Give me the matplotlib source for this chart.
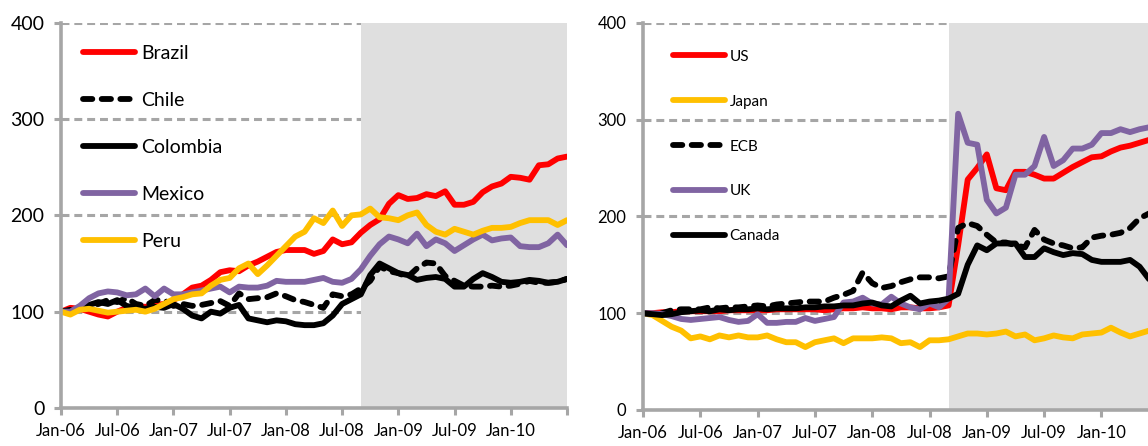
import numpy as np
import matplotlib
matplotlib.use("Agg")
import matplotlib.pyplot as plt

plt.rcParams['font.family'] = ['Lato', 'DejaVu Sans']

# monthly index, Jan-06 = 0 ... Jul-10 = 54 (rebased to 100 at Jan-06)
months = np.arange(55)
tick_labels = ['Jan-06', 'Jul-06', 'Jan-07', 'Jul-07', 'Jan-08',
               'Jul-08', 'Jan-09', 'Jul-09', 'Jan-10', '']
crisis_start = 32  # Sep-08
crisis_end = 54

# emerging markets
brazil = [100, 104, 103, 100, 97, 95, 100, 104, 106, 105, 107, 108, 112, 118, 125,
          127, 133, 141, 143, 142, 148, 152, 157, 162, 164, 164, 164, 160, 163, 175,
          170, 172, 182, 190, 196, 212, 221, 217, 218, 222, 220, 225, 211, 211, 214,
          224, 230, 233, 240, 239, 237, 252, 253, 259, 261]
chile = [100, 102, 104, 107, 108, 112, 110, 114, 108, 106, 112, 112, 106, 108, 106,
         107, 109, 111, 106, 119, 113, 114, 115, 119, 116, 112, 110, 107, 104, 118,
         116, 118, 124, 132, 147, 142, 140, 136, 145, 151, 150, 137, 132, 127, 126,
         126, 127, 126, 127, 129, 132, 130, 130, 131, 134]
colombia = [100, 99, 104, 107, 110, 108, 112, 106, 104, 103, 105, 104, 108, 103, 96,
            93, 100, 98, 104, 107, 93, 91, 89, 91, 90, 87, 86, 86, 88, 96,
            108, 113, 118, 138, 150, 145, 140, 138, 133, 135, 136, 134, 126, 126, 134,
            140, 136, 131, 130, 131, 133, 132, 130, 131, 134]
mexico = [100, 100, 106, 114, 119, 121, 120, 117, 118, 124, 116, 124, 118, 118, 120,
          122, 124, 126, 120, 126, 125, 125, 127, 132, 131, 131, 131, 133, 135, 131,
          130, 134, 144, 158, 170, 178, 175, 171, 181, 168, 175, 171, 163, 169, 175,
          180, 174, 176, 177, 168, 167, 167, 171, 180, 169]
peru = [100, 97, 102, 103, 101, 99, 100, 101, 102, 100, 103, 108, 113, 115, 118,
        119, 127, 133, 135, 145, 150, 139, 148, 158, 168, 178, 183, 197, 192, 205,
        189, 200, 201, 207, 198, 197, 195, 200, 203, 190, 183, 180, 186, 183, 180,
        184, 187, 187, 188, 192, 195, 195, 195, 190, 195]

# advanced economies
us = [100, 100, 101, 101, 102, 102, 102, 102, 102, 103, 103, 103, 103, 103, 104,
      104, 104, 104, 104, 103, 104, 105, 105, 106, 105, 105, 104, 106, 106, 105,
      105, 106, 108, 170, 238, 250, 264, 229, 227, 246, 246, 243, 239, 239, 245,
      251, 256, 261, 262, 267, 271, 273, 276, 279, 281]
japan = [100, 98, 92, 86, 82, 74, 76, 73, 77, 75, 77, 75, 75, 77, 73,
         70, 70, 65, 70, 72, 74, 69, 74, 74, 74, 75, 74, 69, 70, 65,
         72, 72, 73, 76, 79, 79, 78, 79, 81, 76, 78, 72, 74, 77, 75,
         74, 78, 79, 80, 85, 80, 76, 79, 82, 80]
ecb = [100, 99, 100, 103, 104, 104, 104, 106, 105, 106, 106, 107, 108, 107, 109,
       110, 111, 112, 112, 112, 116, 119, 123, 142, 131, 126, 128, 132, 135, 137,
       137, 136, 138, 188, 193, 190, 181, 173, 173, 170, 168, 186, 176, 172, 170,
       167, 168, 178, 180, 181, 183, 188, 198, 203, 205]
uk = [100, 100, 99, 97, 94, 93, 94, 95, 96, 93, 91, 92, 99, 90, 90,
      91, 91, 95, 92, 94, 96, 111, 112, 116, 110, 109, 117, 110, 106, 104,
      110, 106, 115, 306, 276, 274, 217, 203, 209, 243, 243, 252, 282, 252, 258,
      270, 270, 274, 286, 286, 290, 287, 290, 292, 292]
canada = [100, 99, 98, 99, 101, 102, 103, 102, 104, 103, 104, 104, 105, 104, 105,
          105, 105, 106, 106, 107, 107, 108, 108, 110, 111, 108, 107, 113, 118, 110,
          112, 113, 115, 120, 150, 170, 165, 172, 172, 172, 158, 158, 167, 163, 160,
          162, 161, 155, 153, 153, 153, 155, 148, 135, 130]

RED = '#FF0000'
YELLOW = '#FFC000'
PURPLE = '#8064A2'
BLACK = '#000000'
GREY = '#A6A6A6'
SHADE = '#DFDFDF'

LW = 4.2
DASHED = (0, (1.6, 1.6))

left_series = [
    ('Brazil', brazil, RED, '-'),
    ('Chile', chile, BLACK, DASHED),
    ('Colombia', colombia, BLACK, '-'),
    ('Mexico', mexico, PURPLE, '-'),
    ('Peru', peru, YELLOW, '-'),
]
right_series = [
    ('US', us, RED, '-'),
    ('Japan', japan, YELLOW, '-'),
    ('ECB', ecb, BLACK, DASHED),
    ('UK', uk, PURPLE, '-'),
    ('Canada', canada, BLACK, '-'),
]


def draw_panel(ax, series, ytick_size, xtick_size, legend_size,
               legend_anchor, labelspacing, handlelength):
    ax.axvspan(crisis_start, crisis_end, color=SHADE, lw=0, zorder=1)
    for name, values, color, ls in series:
        ax.plot(months, values, color=color, lw=LW, linestyle=ls,
                solid_capstyle='round', dash_capstyle='round',
                solid_joinstyle='round', label=name, zorder=3)

    ax.set_xlim(0, 54)
    ax.set_ylim(0, 400)
    ax.set_yticks([0, 100, 200, 300, 400])
    ax.set_xticks(np.arange(0, 55, 6))
    ax.set_xticklabels(tick_labels)

    ax.grid(axis='y', color=GREY, lw=2.2, linestyle=(0, (2.6, 1.6)), zorder=0)
    ax.set_axisbelow(True)
    for side in ['top', 'right']:
        ax.spines[side].set_visible(False)
    for side in ['left', 'bottom']:
        ax.spines[side].set_color(GREY)
        ax.spines[side].set_linewidth(2.6)
        ax.spines[side].set_zorder(4)
    ax.tick_params(axis='both', direction='out', color=GREY, width=2.2,
                   length=5, labelcolor='black')
    ax.tick_params(axis='y', labelsize=ytick_size, pad=7)
    ax.tick_params(axis='x', labelsize=xtick_size, pad=6)

    leg = ax.legend(loc='upper left', bbox_to_anchor=legend_anchor,
                    frameon=False, fontsize=legend_size, borderpad=0,
                    borderaxespad=0, labelspacing=labelspacing,
                    handlelength=handlelength, handletextpad=0.3)
    leg.set_zorder(5)
    return ax


fig = plt.figure(figsize=(11.48, 4.46), dpi=100)

ax1 = fig.add_axes([61 / 1148, 1 - 408 / 446, 506 / 1148, 385.3 / 446])
draw_panel(ax1, left_series, ytick_size=14, xtick_size=12, legend_size=14,
           legend_anchor=(0.043, 0.942), labelspacing=1.54, handlelength=2.7)

# the right panel runs past the edge of the figure
ax2 = fig.add_axes([643 / 1148, 1 - 410 / 446, 515.7 / 1148, 387.3 / 446])
draw_panel(ax2, right_series, ytick_size=12, xtick_size=12, legend_size=11,
           legend_anchor=(0.058, 0.930), labelspacing=2.02, handlelength=3.4)

fig.savefig('out.png', dpi=100)
